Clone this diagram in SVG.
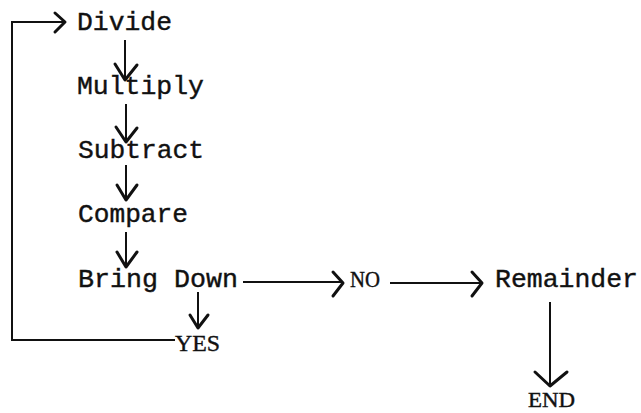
<svg xmlns="http://www.w3.org/2000/svg" width="641" height="413" viewBox="0 0 641 413">
<style>
.t{font-family:"Liberation Mono","Courier New",monospace;font-size:26px;fill:#111;stroke:#111;stroke-width:0.4}
.s{font-family:"Liberation Serif","Times New Roman",serif;font-size:23px;fill:#111;stroke:#111;stroke-width:0.4}
.ln{fill:none;stroke:#111;stroke-width:2}
.ah{fill:none;stroke:#111;stroke-width:3;stroke-linecap:round;stroke-linejoin:round}
</style>
<rect width="641" height="413" fill="#fff"/>
<g id="divide"><text class="t" x="77" y="30" textLength="95" lengthAdjust="spacingAndGlyphs">Divide</text></g>
<g id="multiply"><text class="t" x="77" y="94" textLength="127" lengthAdjust="spacingAndGlyphs">Multiply</text></g>
<g id="subtract"><text class="t" x="78" y="158" textLength="126" lengthAdjust="spacingAndGlyphs">Subtract</text></g>
<g id="compare"><text class="t" x="78" y="222" textLength="110" lengthAdjust="spacingAndGlyphs">Compare</text></g>
<g id="bringdown"><text class="t" x="78" y="287" textLength="160" lengthAdjust="spacingAndGlyphs">Bring Down</text></g>
<g id="yes"><text class="s" x="175" y="351" style="font-size:24px" textLength="45" lengthAdjust="spacingAndGlyphs">YES</text></g>
<g id="no"><text class="s" x="350" y="287" textLength="30" lengthAdjust="spacingAndGlyphs">NO</text></g>
<g id="remainder"><text class="t" x="495" y="287" textLength="143" lengthAdjust="spacingAndGlyphs">Remainder</text></g>
<g id="end"><text class="s" x="528" y="407" style="font-size:21px" textLength="47" lengthAdjust="spacingAndGlyphs">END</text></g>
<g id="connectors">
<path class="ln" d="M125 40V80"/><path class="ah" d="M115 64L125 80L137 65"/>
<path class="ln" d="M126 104V142"/><path class="ah" d="M116 127L126 142L137 128"/>
<path class="ln" d="M126 165V200"/><path class="ah" d="M117 185L126 200L137 185"/>
<path class="ln" d="M126 232V267"/><path class="ah" d="M117 252L126 267L137 252"/>
<path class="ln" d="M198 292V328"/><path class="ah" d="M190 315L198 328L208 315"/>
<path class="ln" d="M175 340H12V22H65"/><path class="ah" d="M55 13L65 22L55 32"/>
<path class="ln" d="M243 282H343"/><path class="ah" d="M333 272L343 283L333 296"/>
<path class="ln" d="M390 283H482"/><path class="ah" d="M472 272L482 283L472 296"/>
<path class="ln" d="M550 302V386"/><path class="ah" d="M535 372L550 386L567 372"/>
</g>
</svg>
